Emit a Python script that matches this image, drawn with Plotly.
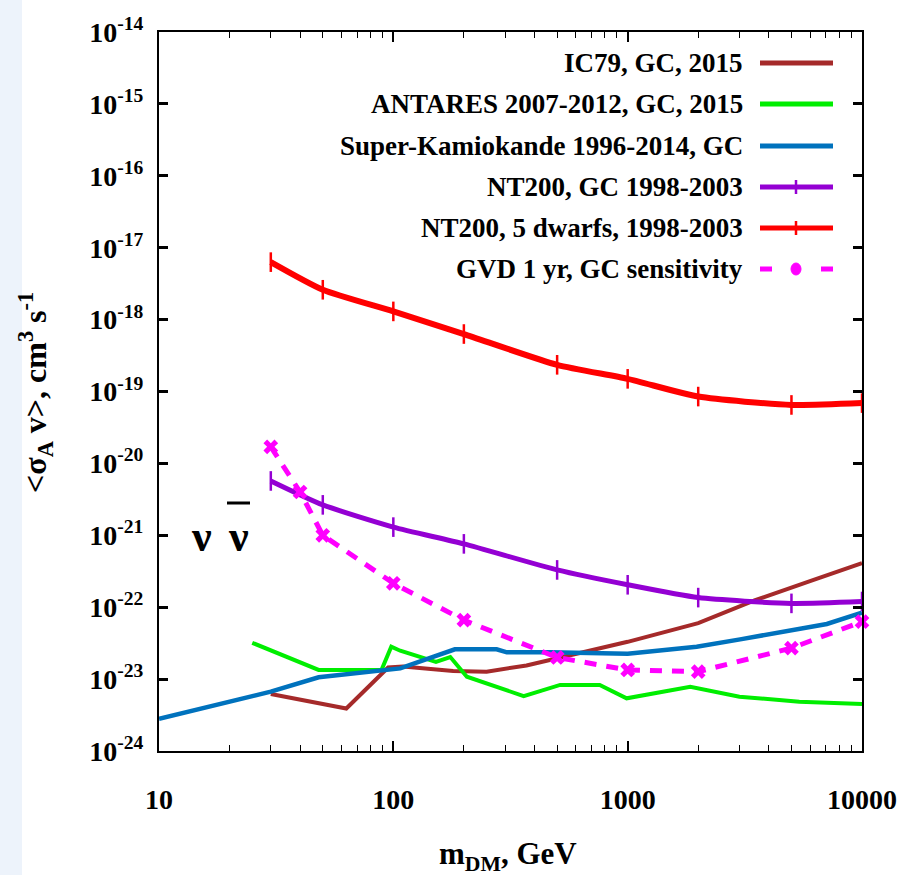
import plotly.graph_objects as go

# ---- data: dark-matter mass (GeV) and <sigma_A v> limits (cm^3 s^-1) ----
ic79_m = [30, 63, 95, 110, 180, 250, 370, 550, 1000, 2000, 3500, 6000, 10000]
ic79_v = [6.2e-24, 3.9e-24, 1.45e-23, 1.5e-23, 1.3e-23, 1.27e-23, 1.55e-23,
          2.1e-23, 3.3e-23, 6.0e-23, 1.25e-22, 2.3e-22, 4.1e-22]

antares_m = [25, 48, 89, 98, 107, 152, 175, 206, 360, 515, 760, 990, 1850,
             3000, 5400, 10000]
antares_v = [3.2e-23, 1.34e-23, 1.34e-23, 2.82e-23, 2.48e-23, 1.73e-23,
             2.03e-23, 1.08e-23, 5.8e-24, 8.3e-24, 8.3e-24, 5.4e-24, 7.8e-24,
             5.7e-24, 4.85e-24, 4.5e-24]

superk_m = [10, 30, 48, 89, 107, 183, 276, 305, 466, 1000, 1970, 3020, 4930,
            7080, 10000]
superk_v = [2.8e-24, 6.7e-24, 1.06e-23, 1.34e-23, 1.41e-23, 2.6e-23, 2.6e-23,
            2.36e-23, 2.36e-23, 2.26e-23, 2.82e-23, 3.57e-23, 4.7e-23,
            5.84e-23, 8.4e-23]

nt200_m = [30, 50, 100, 200, 500, 1000, 2000, 5000, 10000]
nt200_gc_v = [5.7e-21, 2.65e-21, 1.3e-21, 7.6e-22, 3.3e-22, 2.05e-22,
              1.36e-22, 1.13e-22, 1.2e-22]
nt200_dw_v = [6.3e-18, 2.6e-18, 1.3e-18, 6.3e-19, 2.35e-19, 1.5e-19,
              8.5e-20, 6.5e-20, 6.9e-20]

gvd_m = [30, 40, 50, 100, 200, 500, 1000, 2000, 5000, 10000]
gvd_v = [1.7e-20, 4.0e-21, 1.0e-21, 2.15e-22, 6.6e-23, 2.0e-23, 1.34e-23,
         1.27e-23, 2.7e-23, 6.3e-23]

x_tickvals = [10, 100, 1000, 10000]
x_ticktext = ["10", "100", "1000", "10000"]
x_minorvals = [20, 30, 40, 50, 60, 70, 80, 90,
               200, 300, 400, 500, 600, 700, 800, 900,
               2000, 3000, 4000, 5000, 6000, 7000, 8000, 9000]
y_exponents = [-24, -23, -22, -21, -20, -19, -18, -17, -16, -15, -14]

legend_labels = ["IC79, GC, 2015", "ANTARES 2007-2012, GC, 2015",
                 "Super-Kamiokande 1996-2014, GC", "NT200, GC 1998-2003",
                 "NT200, 5 dwarfs, 1998-2003", "GVD 1 yr, GC sensitivity"]

# ---- styling ----
C_IC79 = "#a52a2a"
C_ANT = "#00ee00"
C_SK = "#0072bd"
C_NTGC = "#9400d3"
C_NTDW = "#ff0000"
C_GVD = "#ff00ff"
FONT = "Liberation Serif, Times New Roman, Times, serif"

W, H = 899, 875
ML, MR, MT, MB = 159, 37, 32, 124
PW, PH = W - ML - MR, H - MT - MB


def px(x):
    return (x - ML) / PW


def py(y):
    return 1 - (y - MT) / PH


fig = go.Figure()

fig.add_trace(go.Scatter(x=ic79_m, y=ic79_v, mode="lines",
                         line=dict(color=C_IC79, width=4), cliponaxis=False))
fig.add_trace(go.Scatter(x=antares_m, y=antares_v, mode="lines",
                         line=dict(color=C_ANT, width=4), cliponaxis=False))
fig.add_trace(go.Scatter(x=superk_m, y=superk_v, mode="lines",
                         line=dict(color=C_SK, width=4.5), cliponaxis=False))
fig.add_trace(go.Scatter(x=nt200_m, y=nt200_gc_v, mode="lines+markers",
                         line=dict(color=C_NTGC, width=5, shape="spline", smoothing=0.6),
                         marker=dict(symbol="line-ns", size=14,
                                     line=dict(color=C_NTGC, width=2.5)),
                         cliponaxis=False))
fig.add_trace(go.Scatter(x=nt200_m, y=nt200_dw_v, mode="lines+markers",
                         line=dict(color=C_NTDW, width=6, shape="spline", smoothing=0.6),
                         marker=dict(symbol="line-ns", size=14,
                                     line=dict(color=C_NTDW, width=2.5)),
                         cliponaxis=False))
fig.add_trace(go.Scatter(x=gvd_m, y=gvd_v, mode="lines+markers",
                         line=dict(color=C_GVD, width=5, dash="12px,10px"),
                         marker=dict(symbol="x", size=13, color=C_GVD),
                         cliponaxis=False))

# invisible trace that activates the top axis (mirrored minor ticks)
fig.add_trace(go.Scatter(x=[10, 10000], y=[1e-24, 1e-24], xaxis="x2", mode="lines",
                         line=dict(width=0), hoverinfo="skip", showlegend=False))

shapes = []
annotations = []

# pale strip along the left edge of the page
shapes.append(dict(type="rect", xref="paper", yref="paper",
                   x0=px(0), x1=px(22), y0=py(H), y1=py(0),
                   fillcolor="#edf3fb", line=dict(width=0), layer="below"))

# legend, drawn by hand: text right-aligned, sample on the right
row_y = [63, 104, 146, 187, 228, 269]
sample_colors = [C_IC79, C_ANT, C_SK, C_NTGC, C_NTDW, C_GVD]
for i, (lab, col, yy) in enumerate(zip(legend_labels, sample_colors, row_y)):
    annotations.append(dict(text=lab, xref="paper", yref="paper",
                            x=px(745), y=py(yy), xanchor="right", yanchor="middle",
                            showarrow=False,
                            font=dict(family=FONT, size=27, color="black", weight="bold")))
    if i < 5:
        shapes.append(dict(type="line", xref="paper", yref="paper",
                           x0=px(760), x1=px(833), y0=py(yy), y1=py(yy),
                           line=dict(color=col, width=5)))
        if i in (3, 4):
            shapes.append(dict(type="line", xref="paper", yref="paper",
                               x0=px(796), x1=px(796), y0=py(yy - 7), y1=py(yy + 7),
                               line=dict(color=col, width=2.5)))
    else:
        for a, b in ((760, 772), (821, 833)):
            shapes.append(dict(type="line", xref="paper", yref="paper",
                               x0=px(a), x1=px(b), y0=py(yy), y1=py(yy),
                               line=dict(color=col, width=5)))
        shapes.append(dict(type="circle", xref="paper", yref="paper",
                           x0=px(791), x1=px(801), y0=py(yy + 6), y1=py(yy - 6),
                           fillcolor=col, line=dict(color=col, width=1)))

# nu nu-bar label
for xc in (201, 238):
    annotations.append(dict(text="ν", xref="paper", yref="paper", x=px(xc), y=py(536),
                            xanchor="center", yanchor="middle", showarrow=False,
                            font=dict(family=FONT, size=44, color="black",
                                      weight="bold")))
shapes.append(dict(type="line", xref="paper", yref="paper",
                   x0=px(227), x1=px(250), y0=py(503), y1=py(503),
                   line=dict(color="black", width=3)))

# axis titles
annotations.append(dict(text="<σ<sub>A</sub> v>, cm<sup>3</sup> s<sup>-1</sup>",
                        xref="paper", yref="paper", x=px(35), y=py(392),
                        xanchor="center", yanchor="middle", textangle=-90,
                        showarrow=False,
                        font=dict(family=FONT, size=32, color="black", weight="bold")))
annotations.append(dict(text="m<sub>DM</sub>, GeV", xref="paper", yref="paper",
                        x=px(508), y=py(856), xanchor="center", yanchor="middle",
                        showarrow=False,
                        font=dict(family=FONT, size=31, color="black", weight="bold")))

fig.update_layout(
    width=W, height=H,
    margin=dict(l=ML, r=MR, t=MT, b=MB, autoexpand=False),
    paper_bgcolor="white", plot_bgcolor="white",
    font=dict(family=FONT, size=28, color="black", weight="bold"),
    showlegend=False,
    shapes=shapes, annotations=annotations,
    xaxis=dict(
        type="log", range=[1, 4], showgrid=False, zeroline=False, automargin=False,
        showline=True, linecolor="black", linewidth=2, mirror=True,
        ticks="inside", ticklen=10, tickwidth=1.5, tickcolor="black",
        tickvals=x_tickvals, ticktext=x_ticktext, ticklabelstandoff=22,
        tickfont=dict(family=FONT, size=28, color="black", weight="bold"),
        minor=dict(tickvals=x_minorvals, ticks="inside", ticklen=6,
                   tickwidth=1.2, tickcolor="black", showgrid=False),
    ),
    xaxis2=dict(
        type="log", range=[1, 4], overlaying="x", side="top", automargin=False,
        showgrid=False, zeroline=False, showticklabels=False,
        ticks="inside", ticklen=10, tickwidth=1.5, tickcolor="black",
        tickvals=x_tickvals,
        minor=dict(tickvals=x_minorvals, ticks="inside", ticklen=6,
                   tickwidth=1.2, tickcolor="black", showgrid=False),
    ),
    yaxis=dict(
        type="log", range=[-24, -14], showgrid=False, zeroline=False, automargin=False,
        showline=True, linecolor="black", linewidth=2, mirror="ticks",
        ticks="inside", ticklen=9, tickwidth=2.5, tickcolor="black",
        tickvals=[10.0 ** e for e in y_exponents],
        ticktext=["10<sup>%d</sup>" % e for e in y_exponents],
        ticklabelstandoff=8,
        tickfont=dict(family=FONT, size=28, color="black", weight="bold"),
    ),
)

fig.write_html("out.html")
